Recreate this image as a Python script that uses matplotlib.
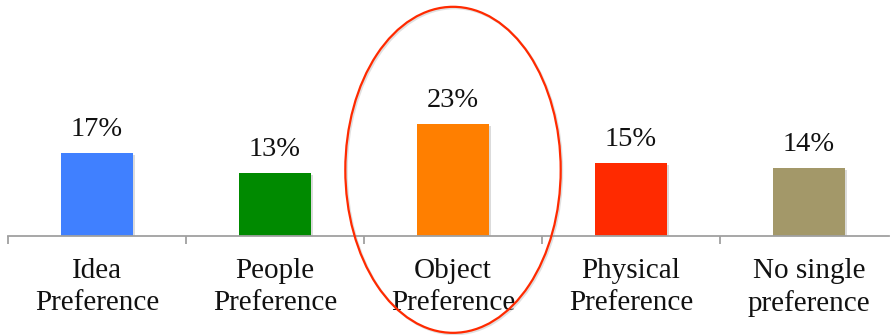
import matplotlib.pyplot as plt
import matplotlib.patches as mpatches
import matplotlib.patheffects as pe
import numpy as np

# Preference categories and share of respondents (%)
categories = ['Idea\nPreference', 'People\nPreference', 'Object\nPreference',
              'Physical\nPreference', 'No single\npreference']
shares = [17, 13, 23, 15, 14]
bar_colors = ['#4080FF', '#008A00', '#FF7F00', '#FF2A00', '#A39869']

plt.rcParams['font.family'] = ['Liberation Serif', 'DejaVu Serif']

fig = plt.figure(figsize=(8.9, 3.35), dpi=100)
ax = fig.add_axes([8 / 890, 1 - 236 / 335, 881 / 890, 236 / 335])

x = np.arange(len(categories))
shadow = [pe.SimplePatchShadow(offset=(1.5, -1.5), shadow_rgbFace='#999999', alpha=0.35), pe.Normal()]
bars = ax.bar(x, shares, width=0.405, color=bar_colors, zorder=2)
for b in bars:
    b.set_path_effects(shadow)

for xi, v in zip(x, shares):
    ax.annotate(f'{v}%', (xi, v), xytext=(0, 8), textcoords='offset points',
                ha='center', va='bottom', fontsize=20.5, color='#111111')

# category labels centred, tick marks on the boundaries
ax.set_xticks(x)
ax.set_xticklabels(categories, fontsize=21, linespacing=1.28, color='#111111')
ax.tick_params(axis='x', which='major', length=0, pad=16)
ax.set_xticks(np.arange(-0.5, len(categories), 1.0), minor=True)
ax.tick_params(axis='x', which='minor', length=6, width=1.3, color='#A0A0A0')
ax.set_yticks([])

# limits after the ticks so they are not widened again
ax.set_xlim(-0.5, -0.5 + 881 / 178)
ax.set_ylim(0, 48.5)

for side in ['top', 'right', 'left']:
    ax.spines[side].set_visible(False)
ax.spines['bottom'].set_color('#A0A0A0')
ax.spines['bottom'].set_linewidth(1.3)

# highlight the object preference column
ring = mpatches.Ellipse((2.0, 13.6), width=1.21, height=67, fill=False,
                        edgecolor='#FF2A00', linewidth=1.6, clip_on=False, zorder=3)
ring.set_path_effects([pe.SimpleLineShadow(offset=(1, -1), shadow_color='#999999', alpha=0.3), pe.Normal()])
ax.add_patch(ring)

fig.savefig('out.png', dpi=100)
